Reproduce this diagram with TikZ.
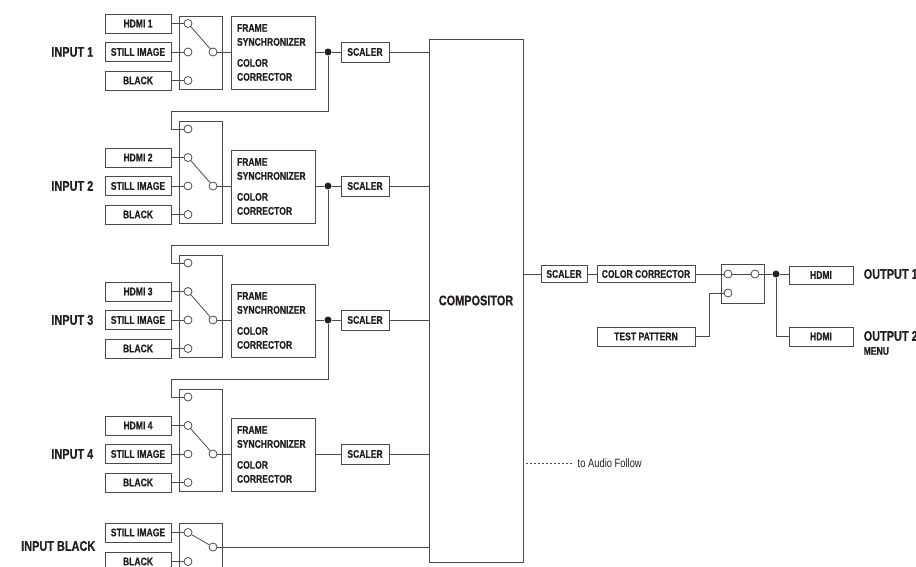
\documentclass[tikz,border=0pt]{standalone}
\usepackage{fontspec}
\setmainfont{Liberation Sans}[FakeStretch=0.78, BoldFeatures={FakeBold=0.6}]
\usetikzlibrary{positioning}
\definecolor{ink}{HTML}{231F20}
\definecolor{wire}{HTML}{4A4A4A}
\newcommand{\blockfont}{\fontsize{11}{14}\selectfont\bfseries}
\newcommand{\tagfont}{\fontsize{14}{16}\selectfont\bfseries}

\begin{document}
\begin{tikzpicture}[%
>=stealth,
x=1pt, y=-1pt,
color=wire,
line width=0.8pt,
every node/.style={text=ink},
box/.style={draw, rectangle, inner sep=0pt, minimum height=19pt, font=\blockfont},
port/.style={draw, circle, fill=white, minimum size=8pt, inner sep=0pt},
joint/.style={fill=ink, circle, minimum size=7pt, inner sep=0pt},
switchbox/.style={draw, rectangle, minimum width=43pt, inner sep=0pt},
inlabel/.style={anchor=east, font=\tagfont},
outlabel/.style={anchor=west, font=\tagfont}
]
\useasboundingbox (0,0) rectangle (916,567);

% compositor
\node[box, minimum width=94pt, minimum height=523pt, font=\tagfont] (comp) at (476,300.5) {COMPOSITOR};

% input 1
\node[inlabel] (in1) at (97,52) {INPUT 1};
\node[box, minimum width=66pt] (hdmi1) at (138,23.5) {HDMI 1};
\node[box, minimum width=66pt] (still1) at (138,52) {STILL IMAGE};
\node[box, minimum width=66pt] (black1) at (138,80.5) {BLACK};
\node[switchbox, minimum height=73pt] (sw1) at (200.5,52.5) {};
\node[port] (a1) at (188,23.5) {};
\node[port] (b1) at (188,52) {};
\node[port] (k1) at (188,80.5) {};
\node[port] (o1) at (213,52) {};
\node[box, minimum width=84pt, minimum height=73pt, align=left, text width=72pt] (fs1) at (273,52.5)
  {FRAME\\SYNCHRONIZER\\[7pt]COLOR\\CORRECTOR};
\node[joint] (d1) at (328,52) {};
\node[box, minimum width=48pt, minimum height=20pt] (sc1) at (365,52) {SCALER};

% input 2
\node[inlabel] (in2) at (97,186) {INPUT 2};
\node[box, minimum width=66pt] (hdmi2) at (138,157.5) {HDMI 2};
\node[box, minimum width=66pt] (still2) at (138,186) {STILL IMAGE};
\node[box, minimum width=66pt] (black2) at (138,214.5) {BLACK};
\node[switchbox, minimum height=102pt] (sw2) at (200.5,172) {};
\node[port] (t2) at (188,129) {};
\node[port] (a2) at (188,157.5) {};
\node[port] (b2) at (188,186) {};
\node[port] (k2) at (188,214.5) {};
\node[port] (o2) at (213,186) {};
\node[box, minimum width=84pt, minimum height=73pt, align=left, text width=72pt] (fs2) at (273,186.5)
  {FRAME\\SYNCHRONIZER\\[7pt]COLOR\\CORRECTOR};
\node[joint] (d2) at (328,186) {};
\node[box, minimum width=48pt, minimum height=20pt] (sc2) at (365,186) {SCALER};

% input 3
\node[inlabel] (in3) at (97,320) {INPUT 3};
\node[box, minimum width=66pt] (hdmi3) at (138,291.5) {HDMI 3};
\node[box, minimum width=66pt] (still3) at (138,320) {STILL IMAGE};
\node[box, minimum width=66pt] (black3) at (138,348.5) {BLACK};
\node[switchbox, minimum height=102pt] (sw3) at (200.5,306) {};
\node[port] (t3) at (188,263) {};
\node[port] (a3) at (188,291.5) {};
\node[port] (b3) at (188,320) {};
\node[port] (k3) at (188,348.5) {};
\node[port] (o3) at (213,320) {};
\node[box, minimum width=84pt, minimum height=73pt, align=left, text width=72pt] (fs3) at (273,320.5)
  {FRAME\\SYNCHRONIZER\\[7pt]COLOR\\CORRECTOR};
\node[joint] (d3) at (328,320) {};
\node[box, minimum width=48pt, minimum height=20pt] (sc3) at (365,320) {SCALER};

% input 4
\node[inlabel] (in4) at (97,454) {INPUT 4};
\node[box, minimum width=66pt] (hdmi4) at (138,425.5) {HDMI 4};
\node[box, minimum width=66pt] (still4) at (138,454) {STILL IMAGE};
\node[box, minimum width=66pt] (black4) at (138,482.5) {BLACK};
\node[switchbox, minimum height=102pt] (sw4) at (200.5,440) {};
\node[port] (t4) at (188,397) {};
\node[port] (a4) at (188,425.5) {};
\node[port] (b4) at (188,454) {};
\node[port] (k4) at (188,482.5) {};
\node[port] (o4) at (213,454) {};
\node[box, minimum width=84pt, minimum height=73pt, align=left, text width=72pt] (fs4) at (273,454.5)
  {FRAME\\SYNCHRONIZER\\[7pt]COLOR\\CORRECTOR};
\node[box, minimum width=48pt, minimum height=20pt] (sc4) at (365,454) {SCALER};

% input black
\node[inlabel] (in5) at (99,546) {INPUT BLACK};
\node[box, minimum width=66pt] (still5) at (138,532.5) {STILL IMAGE};
\node[box, minimum width=66pt] (black5) at (138,561.5) {BLACK};
\node[switchbox, minimum height=74pt] (sw5) at (200.5,560) {};
\node[port] (a5) at (188,532.5) {};
\node[port] (k5) at (188,561.5) {};
\node[port] (o5) at (213,547) {};

% output side
\node[box, minimum width=46pt, minimum height=17pt] (osc) at (564,274) {SCALER};
\node[box, minimum width=98pt, minimum height=17pt] (occ) at (646,274) {COLOR CORRECTOR};
\node[box, minimum width=98pt] (tp) at (646,336.5) {TEST PATTERN};
\node[switchbox, minimum height=39pt] (osw) at (742.5,283.5) {};
\node[port] (r1) at (728,274) {};
\node[port] (r2) at (755,274) {};
\node[port] (r3) at (728,293) {};
\node[joint] (od) at (776,274) {};
\node[box, minimum width=64pt, minimum height=18pt] (hdmia) at (821,275) {HDMI};
\node[box, minimum width=64pt] (hdmib) at (821,336.5) {HDMI};
\node[outlabel] (out1) at (860,274) {OUTPUT 1};
\node[outlabel] (out2) at (860,336) {OUTPUT 2};
\node[anchor=west, font=\blockfont] (menu) at (860,351) {MENU};
\node[anchor=west, font=\fontsize{12}{14}\selectfont] (audio) at (574,463) {to Audio Follow};

% sources to switches
\path (hdmi1) edge (a1) (still1) edge (b1) (black1) edge (k1);
\path (hdmi2) edge (a2) (still2) edge (b2) (black2) edge (k2);
\path (hdmi3) edge (a3) (still3) edge (b3) (black3) edge (k3);
\path (hdmi4) edge (a4) (still4) edge (b4) (black4) edge (k4);
\path (still5) edge (a5) (black5) edge (k5);

% switch levers
\path (a1) edge (o1) (a2) edge (o2) (a3) edge (o3) (a4) edge (o4) (a5) edge (o5);

% switches to frame synchronizers
\draw (o1) -- (o1 -| fs1.west);
\draw (o2) -- (o2 -| fs2.west);
\draw (o3) -- (o3 -| fs3.west);
\draw (o4) -- (o4 -| fs4.west);

% frame synchronizers to scalers
\draw (fs1.east |- d1) -- (d1) -- (sc1);
\draw (fs2.east |- d2) -- (d2) -- (sc2);
\draw (fs3.east |- d3) -- (d3) -- (sc3);
\draw (fs4.east |- sc4) -- (sc4);

% loop back to next input
\coordinate (fb1) at (171,111);
\coordinate (fb2) at (171,245);
\coordinate (fb3) at (171,379);
\draw (d1) |- (fb1) |- (t2);
\draw (d2) |- (fb2) |- (t3);
\draw (d3) |- (fb3) |- (t4);

% into compositor
\draw (sc1) -- (sc1 -| comp.west);
\draw (sc2) -- (sc2 -| comp.west);
\draw (sc3) -- (sc3 -| comp.west);
\draw (sc4) -- (sc4 -| comp.west);
\draw (o5) -- (o5 -| comp.west);

% output chain
\draw (comp.east |- osc) -- (osc);
\draw (osc) -- (occ);
\draw (occ) -- (r1);
\draw (r1) -- (r2);
\draw (r2) -- (od) -- (od -| hdmia.west);
\draw (od) |- (hdmib);
\coordinate (tpk) at (709,293);
\draw (tp.east) -| (tpk) -- (r3);
\draw[dash pattern=on 2pt off 2pt, line width=0.5pt] ([xshift=3pt]comp.east |- audio) -- (audio.west);
\end{tikzpicture}
\end{document}
